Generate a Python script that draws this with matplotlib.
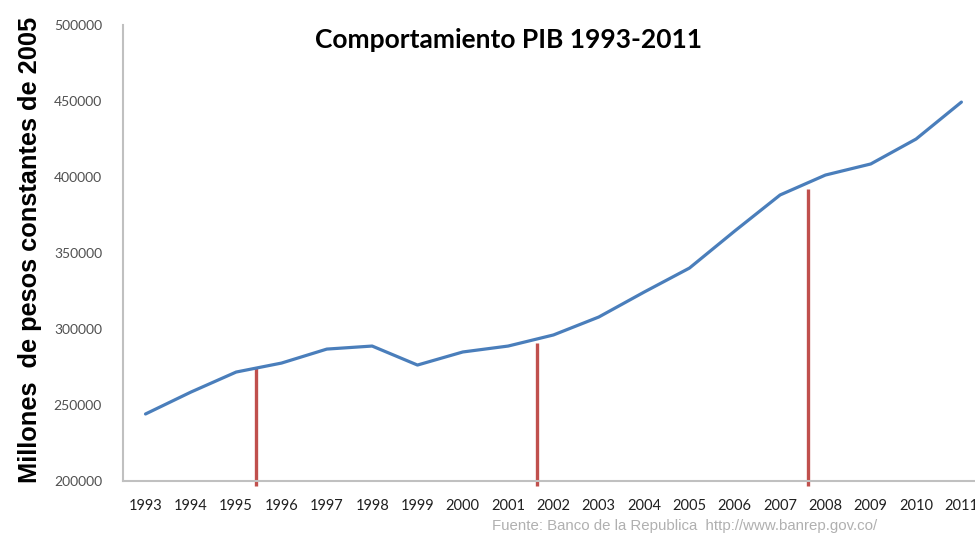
import matplotlib.pyplot as plt
import numpy as np

# datos (millones de pesos constantes de 2005)
anios = ['1993', '1994', '1995', '1996', '1997', '1998', '1999', '2000', '2001', '2002',
         '2003', '2004', '2005', '2006', '2007', '2008', '2009', '2010', '2011']
pib = [244100, 258500, 271700, 277600, 286800, 288800, 276300, 284900, 288800, 296100,
       307900, 324300, 340100, 364500, 388200, 401300, 408600, 425000, 449300]

# lineas rojas: posicion (en indice de categoria) y altura
marcas_x = [2.43, 8.63, 14.61]
marcas_top = [274300, 290800, 392100]
marcas_base = 196800

fig = plt.figure(figsize=(9.75, 5.35), dpi=100)
ax = fig.add_axes([0.126, 0.1009, 0.874, 0.8523])

x = np.arange(len(anios))
ax.plot(x, pib, color='#4a7ebb', linewidth=2.3, solid_capstyle='round', zorder=3)
ax.vlines(marcas_x, marcas_base, marcas_top, color='#c0504d', linewidth=2.4,
          clip_on=False, zorder=2)

ax.set_xlim(-0.5, 18.3)
ax.set_ylim(200000, 500000)
ax.set_yticks(np.arange(200000, 500001, 50000))
ax.set_xticks(x)
ax.set_xticklabels(anios)

for s in ['top', 'right']:
    ax.spines[s].set_visible(False)
for s in ['left', 'bottom']:
    ax.spines[s].set_color('#c0c0c0')
    ax.spines[s].set_linewidth(1.5)

ax.tick_params(axis='y', length=0, pad=15, labelsize=10, labelcolor='#505050')
ax.tick_params(axis='x', length=0, pad=13, labelsize=10.5, labelcolor='#202020')
for lab in ax.get_xticklabels() + ax.get_yticklabels():
    lab.set_family('Lato')

fig.text(0.522, 0.925, 'Comportamiento PIB 1993-2011', ha='center', va='center',
         fontsize=19, fontweight='bold', family='Lato')
fig.text(0.031, 0.533, 'Millones  de pesos constantes de 2005', rotation=90,
         ha='center', va='center', fontsize=18.3, fontweight='bold',
         family='Liberation Sans')
fig.text(0.505, 0.017, 'Fuente: Banco de la Republica  http://www.banrep.gov.co/',
         ha='left', va='center', fontsize=10.8, color='#b0b0b0', family='Liberation Sans')

plt.savefig('out.png', dpi=100)
plt.close()
